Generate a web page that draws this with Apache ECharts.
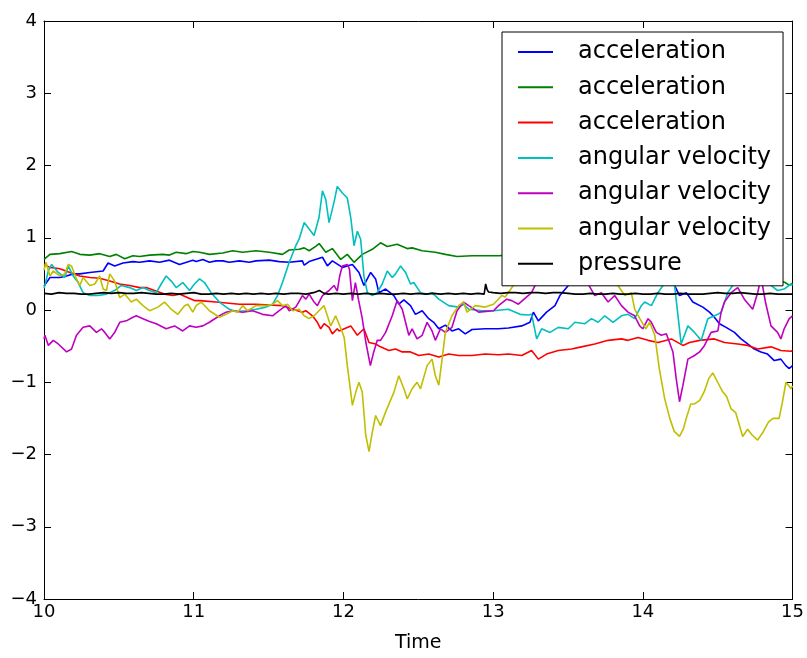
<!DOCTYPE html>
<html>
<head>
<meta charset="utf-8">
<script src="https://cdn.jsdelivr.net/npm/echarts@6/dist/echarts.min.js"></script>
<style>html,body{margin:0;padding:0;background:#fff}#chart{width:807px;height:658px}</style>
</head>
<body>
<div id="chart"></div>
<script>
// ---- data (time, value) ----
const seriesNames = ['acceleration', 'acceleration', 'acceleration', 'angular velocity', 'angular velocity', 'angular velocity', 'pressure'];
const seriesColors = ['#0000ff', '#008000', '#ff0000', '#00bfbf', '#bf00bf', '#bfbf00', '#000000'];
const xTicks = [10, 11, 12, 13, 14, 15];
const yTicks = [-4, -3, -2, -1, 0, 1, 2, 3, 4];

const accelX = [[10.0,0.33],[10.006,0.34],[10.04,0.45],[10.106,0.45],[10.15,0.47],[10.195,0.50],[10.239,0.50],[10.306,0.52],[10.395,0.54],[10.428,0.65],[10.472,0.61],[10.528,0.65],[10.594,0.67],[10.639,0.66],[10.705,0.68],[10.772,0.66],[10.838,0.69],[10.905,0.63],[10.994,0.69],[11.016,0.67],[11.061,0.70],[11.105,0.66],[11.15,0.68],[11.194,0.68],[11.238,0.66],[11.305,0.68],[11.371,0.66],[11.416,0.68],[11.505,0.69],[11.571,0.67],[11.638,0.66],[11.726,0.68],[11.738,0.62],[11.771,0.67],[11.86,0.73],[11.893,0.61],[11.926,0.68],[11.993,0.59],[12.06,0.63],[12.104,0.52],[12.137,0.34],[12.182,0.52],[12.215,0.43],[12.237,0.24],[12.282,0.29],[12.337,0.20],[12.37,0.08],[12.404,0.14],[12.448,0.06],[12.481,-0.06],[12.526,-0.01],[12.57,-0.12],[12.603,-0.17],[12.637,-0.26],[12.681,-0.21],[12.725,-0.29],[12.77,-0.26],[12.814,-0.33],[12.859,-0.27],[12.947,-0.26],[13.036,-0.26],[13.102,-0.25],[13.191,-0.22],[13.246,-0.17],[13.269,-0.03],[13.302,-0.15],[13.357,-0.03],[13.413,0.06],[13.446,0.20],[13.502,0.34],[13.56,0.42],[13.65,0.5],[13.75,0.55],[13.85,0.55],[13.95,0.5],[14.05,0.5],[14.15,0.42],[14.212,0.34],[14.245,0.20],[14.29,0.24],[14.334,0.11],[14.401,0.04],[14.445,-0.03],[14.478,-0.10],[14.512,-0.19],[14.556,-0.24],[14.612,-0.31],[14.656,-0.40],[14.7,-0.47],[14.745,-0.54],[14.789,-0.58],[14.833,-0.61],[14.878,-0.70],[14.922,-0.68],[14.955,-0.77],[14.978,-0.81],[15.0,-0.77]];

const accelY = [[10.0,0.70],[10.006,0.72],[10.04,0.77],[10.106,0.78],[10.184,0.81],[10.239,0.77],[10.306,0.76],[10.372,0.78],[10.439,0.74],[10.483,0.77],[10.539,0.71],[10.594,0.75],[10.639,0.74],[10.705,0.76],[10.794,0.77],[10.838,0.76],[10.883,0.80],[10.949,0.78],[10.994,0.81],[11.039,0.80],[11.105,0.77],[11.194,0.79],[11.26,0.82],[11.327,0.80],[11.416,0.82],[11.505,0.80],[11.593,0.77],[11.638,0.83],[11.704,0.84],[11.738,0.86],[11.771,0.82],[11.815,0.88],[11.838,0.92],[11.882,0.80],[11.926,0.85],[11.982,0.70],[12.026,0.77],[12.071,0.66],[12.126,0.77],[12.193,0.84],[12.248,0.93],[12.293,0.88],[12.359,0.91],[12.426,0.85],[12.459,0.86],[12.526,0.82],[12.614,0.80],[12.681,0.77],[12.759,0.74],[12.859,0.75],[12.947,0.75],[13.036,0.75],[13.1,0.76],[13.3,0.78],[13.5,0.75],[13.7,0.72],[13.9,0.70],[14.1,0.68],[14.3,0.62],[14.5,0.55],[14.7,0.50],[14.85,0.42],[14.92,0.40],[14.95,0.38],[14.98,0.34],[15.0,0.37]];

const accelZ = [[10.0,0.63],[10.006,0.61],[10.04,0.59],[10.106,0.57],[10.173,0.52],[10.239,0.47],[10.306,0.45],[10.372,0.44],[10.439,0.40],[10.505,0.36],[10.572,0.34],[10.639,0.31],[10.683,0.31],[10.739,0.27],[10.805,0.22],[10.861,0.20],[10.905,0.22],[10.961,0.17],[11.005,0.13],[11.039,0.13],[11.149,0.11],[11.305,0.08],[11.416,0.08],[11.505,0.07],[11.593,0.06],[11.66,0.01],[11.726,-0.03],[11.749,-0.01],[11.793,-0.08],[11.826,-0.17],[11.848,-0.26],[11.871,-0.19],[11.904,-0.24],[11.926,-0.33],[11.959,-0.26],[11.971,-0.29],[12.049,-0.22],[12.093,-0.35],[12.137,-0.26],[12.171,-0.45],[12.215,-0.47],[12.248,-0.51],[12.304,-0.56],[12.348,-0.54],[12.393,-0.58],[12.448,-0.58],[12.504,-0.63],[12.57,-0.61],[12.637,-0.65],[12.703,-0.61],[12.77,-0.63],[12.859,-0.63],[12.947,-0.61],[13.036,-0.62],[13.102,-0.61],[13.191,-0.63],[13.257,-0.56],[13.302,-0.68],[13.357,-0.61],[13.435,-0.56],[13.524,-0.54],[13.59,-0.51],[13.679,-0.47],[13.768,-0.42],[13.857,-0.40],[13.901,-0.42],[13.968,-0.38],[14.035,-0.42],[14.101,-0.45],[14.19,-0.40],[14.268,-0.49],[14.312,-0.45],[14.379,-0.42],[14.478,-0.40],[14.545,-0.45],[14.634,-0.47],[14.7,-0.49],[14.767,-0.54],[14.856,-0.51],[14.922,-0.56],[14.989,-0.57],[15.0,-0.56]];

const angVelX = [[10.0,0.30],[10.006,0.34],[10.03,0.55],[10.051,0.63],[10.095,0.52],[10.139,0.45],[10.162,0.61],[10.195,0.47],[10.228,0.38],[10.261,0.24],[10.306,0.20],[10.361,0.20],[10.417,0.22],[10.472,0.27],[10.517,0.34],[10.572,0.31],[10.617,0.27],[10.661,0.31],[10.705,0.27],[10.75,0.24],[10.783,0.36],[10.816,0.47],[10.85,0.40],[10.883,0.31],[10.927,0.38],[10.972,0.27],[11.005,0.36],[11.039,0.43],[11.072,0.38],[11.116,0.24],[11.172,0.11],[11.238,0.01],[11.283,-0.02],[11.349,-0.01],[11.416,0.01],[11.482,0.04],[11.527,0.08],[11.56,0.20],[11.593,0.38],[11.638,0.66],[11.682,0.89],[11.704,0.98],[11.738,1.21],[11.771,1.12],[11.804,1.03],[11.837,1.28],[11.86,1.65],[11.882,1.53],[11.904,1.21],[11.937,1.49],[11.959,1.71],[11.993,1.62],[12.004,1.62],[12.026,1.55],[12.049,1.28],[12.071,0.89],[12.093,1.09],[12.115,0.98],[12.137,0.47],[12.16,0.24],[12.193,0.20],[12.226,0.24],[12.259,0.36],[12.293,0.54],[12.326,0.45],[12.348,0.50],[12.382,0.61],[12.415,0.52],[12.448,0.36],[12.47,0.38],[12.515,0.24],[12.559,0.22],[12.592,0.24],[12.637,0.15],[12.703,0.06],[12.77,0.04],[12.803,0.08],[12.837,0.01],[12.925,-0.01],[13.003,-0.01],[13.102,0.01],[13.18,-0.06],[13.235,-0.07],[13.257,-0.06],[13.291,-0.40],[13.324,-0.26],[13.38,-0.31],[13.435,-0.24],[13.502,-0.26],[13.546,-0.17],[13.613,-0.19],[13.657,-0.12],[13.701,-0.17],[13.746,-0.08],[13.801,-0.17],[13.857,-0.08],[13.901,-0.06],[13.945,-0.12],[13.99,0.06],[14.012,0.11],[14.057,0.06],[14.101,0.24],[14.134,0.34],[14.16,0.55],[14.19,0.50],[14.212,0.34],[14.256,-0.47],[14.301,-0.22],[14.345,-0.31],[14.39,-0.42],[14.434,-0.12],[14.501,-0.06],[14.523,-0.03],[14.567,0.24],[14.6,0.34],[14.65,0.6],[14.75,0.7],[14.82,0.5],[14.856,0.34],[14.9,0.27],[14.944,0.29],[14.989,0.36],[15.0,0.34]];

const angVelY = [[10.0,-0.40],[10.006,-0.35],[10.029,-0.49],[10.062,-0.42],[10.095,-0.47],[10.151,-0.58],[10.184,-0.54],[10.217,-0.35],[10.261,-0.24],[10.306,-0.22],[10.35,-0.31],[10.384,-0.26],[10.406,-0.31],[10.439,-0.40],[10.472,-0.31],[10.506,-0.17],[10.55,-0.15],[10.594,-0.10],[10.617,-0.08],[10.661,-0.12],[10.705,-0.16],[10.75,-0.19],[10.816,-0.26],[10.872,-0.22],[10.927,-0.29],[10.972,-0.22],[11.016,-0.24],[11.061,-0.22],[11.105,-0.17],[11.172,-0.08],[11.216,-0.03],[11.26,-0.01],[11.327,-0.03],[11.394,-0.01],[11.46,-0.06],[11.527,-0.08],[11.571,-0.01],[11.616,0.06],[11.638,-0.01],[11.682,0.04],[11.726,0.20],[11.749,0.15],[11.771,0.22],[11.804,0.11],[11.826,0.06],[11.86,0.20],[11.904,0.27],[11.937,0.34],[11.959,0.26],[11.975,0.47],[11.993,0.61],[12.026,0.63],[12.04,0.57],[12.06,0.13],[12.08,0.38],[12.10,0.15],[12.126,-0.12],[12.15,-0.45],[12.18,-0.77],[12.2,-0.60],[12.226,-0.42],[12.248,-0.42],[12.282,-0.31],[12.326,-0.08],[12.359,0.13],[12.393,0.01],[12.437,-0.35],[12.459,-0.26],[12.492,-0.40],[12.526,-0.35],[12.559,-0.17],[12.592,-0.29],[12.614,-0.42],[12.648,-0.26],[12.681,-0.31],[12.725,-0.24],[12.759,-0.01],[12.803,0.11],[12.837,0.06],[12.903,-0.03],[13.003,-0.01],[13.036,0.06],[13.091,0.15],[13.124,0.13],[13.169,0.08],[13.257,0.24],[13.28,0.34],[13.33,0.5],[13.4,0.55],[13.5,0.45],[13.6,0.5],[13.64,0.34],[13.679,0.20],[13.723,0.24],[13.768,0.11],[13.812,0.20],[13.857,0.06],[13.901,-0.03],[13.945,-0.08],[13.979,-0.22],[14.0,-0.26],[14.035,-0.12],[14.057,-0.17],[14.09,-0.31],[14.123,-0.35],[14.157,-0.33],[14.201,-0.58],[14.223,-0.95],[14.245,-1.27],[14.268,-1.04],[14.301,-0.68],[14.345,-0.63],[14.379,-0.58],[14.412,-0.49],[14.456,-0.31],[14.501,-0.29],[14.523,-0.03],[14.545,0.11],[14.59,0.24],[14.634,0.31],[14.678,0.15],[14.734,0.01],[14.767,0.24],[14.79,0.45],[14.82,0.1],[14.856,-0.22],[14.9,-0.31],[14.922,-0.40],[14.944,-0.26],[14.978,-0.12],[15.0,-0.08]];

const angVelZ = [[10.0,0.55],[10.013,0.66],[10.04,0.47],[10.062,0.54],[10.106,0.47],[10.139,0.50],[10.162,0.63],[10.184,0.61],[10.217,0.43],[10.239,0.34],[10.261,0.45],[10.306,0.34],[10.339,0.36],[10.372,0.47],[10.395,0.29],[10.417,0.27],[10.439,0.50],[10.472,0.40],[10.506,0.17],[10.539,0.22],[10.583,0.11],[10.617,0.15],[10.661,0.06],[10.705,-0.01],[10.761,0.04],[10.805,0.11],[10.85,0.01],[10.894,-0.06],[10.939,0.06],[10.961,0.08],[10.994,-0.03],[11.016,0.06],[11.05,0.11],[11.105,-0.01],[11.172,-0.10],[11.216,-0.06],[11.26,-0.01],[11.294,-0.03],[11.327,0.06],[11.36,-0.01],[11.416,0.06],[11.482,0.06],[11.527,0.08],[11.56,0.13],[11.593,0.06],[11.627,0.08],[11.66,-0.01],[11.704,0.01],[11.738,-0.08],[11.771,-0.12],[11.804,-0.08],[11.837,-0.01],[11.871,0.06],[11.915,-0.22],[11.948,-0.08],[11.993,-0.31],[12.005,-0.38],[12.026,-0.77],[12.049,-1.14],[12.06,-1.32],[12.082,-1.14],[12.104,-1.00],[12.126,-1.14],[12.149,-1.73],[12.171,-1.96],[12.193,-1.69],[12.215,-1.46],[12.248,-1.60],[12.282,-1.41],[12.337,-1.14],[12.37,-0.91],[12.404,-1.09],[12.426,-1.23],[12.459,-1.09],[12.492,-1.00],[12.515,-1.09],[12.559,-0.77],[12.592,-0.68],[12.614,-0.91],[12.637,-1.04],[12.659,-0.68],[12.681,-0.31],[12.725,-0.08],[12.77,0.06],[12.803,0.11],[12.825,-0.03],[12.881,0.06],[12.947,0.04],[13.003,0.08],[13.058,0.20],[13.08,0.18],[13.135,0.34],[13.2,0.5],[13.3,0.7],[13.45,0.6],[13.6,0.75],[13.75,0.5],[13.834,0.34],[13.879,0.20],[13.923,0.24],[13.946,0.01],[13.98,-0.12],[14.02,-0.26],[14.046,-0.17],[14.08,-0.35],[14.11,-0.81],[14.146,-1.23],[14.18,-1.50],[14.21,-1.68],[14.245,-1.75],[14.27,-1.65],[14.29,-1.50],[14.32,-1.30],[14.345,-1.30],[14.38,-1.25],[14.41,-1.13],[14.44,-0.95],[14.467,-0.87],[14.50,-1.00],[14.53,-1.12],[14.56,-1.20],[14.59,-1.37],[14.62,-1.42],[14.667,-1.75],[14.70,-1.65],[14.73,-1.73],[14.767,-1.80],[14.80,-1.70],[14.84,-1.55],[14.87,-1.50],[14.91,-1.50],[14.93,-1.30],[14.956,-1.00],[14.99,-1.09],[15.0,-1.05]];

const pressure = [[10.0,0.23],[10.05,0.22],[10.1,0.24],[10.15,0.23],[10.2,0.23],[10.25,0.22],[10.3,0.22],[10.35,0.23],[10.4,0.24],[10.45,0.23],[10.5,0.24],[10.55,0.23],[10.6,0.23],[10.65,0.24],[10.7,0.23],[10.75,0.22],[10.8,0.22],[10.85,0.23],[10.9,0.22],[10.95,0.23],[11.0,0.24],[11.05,0.22],[11.1,0.22],[11.15,0.23],[11.2,0.22],[11.25,0.23],[11.3,0.22],[11.35,0.23],[11.4,0.22],[11.45,0.23],[11.5,0.22],[11.55,0.23],[11.6,0.22],[11.65,0.23],[11.7,0.23],[11.75,0.22],[11.8,0.24],[11.84,0.27],[11.87,0.23],[11.9,0.22],[11.95,0.23],[12.0,0.22],[12.05,0.23],[12.1,0.22],[12.15,0.23],[12.2,0.22],[12.25,0.23],[12.3,0.22],[12.35,0.22],[12.4,0.23],[12.45,0.22],[12.5,0.23],[12.55,0.22],[12.6,0.23],[12.65,0.22],[12.7,0.23],[12.75,0.22],[12.8,0.23],[12.85,0.22],[12.9,0.23],[12.94,0.22],[12.95,0.36],[12.96,0.28],[12.97,0.25],[13.0,0.24],[13.05,0.23],[13.1,0.24],[13.15,0.24],[13.2,0.23],[13.25,0.24],[13.3,0.24],[13.35,0.23],[13.4,0.24],[13.45,0.24],[13.5,0.23],[13.55,0.22],[13.6,0.22],[13.65,0.23],[13.7,0.22],[13.75,0.22],[13.8,0.23],[13.85,0.22],[13.9,0.22],[13.95,0.23],[14.0,0.22],[14.05,0.22],[14.1,0.23],[14.15,0.22],[14.2,0.22],[14.25,0.23],[14.3,0.22],[14.35,0.22],[14.4,0.22],[14.45,0.23],[14.5,0.24],[14.55,0.23],[14.6,0.23],[14.65,0.24],[14.7,0.23],[14.75,0.22],[14.8,0.22],[14.85,0.23],[14.9,0.22],[14.95,0.22],[15.0,0.22]];

const seriesData = [accelX, accelY, accelZ, angVelX, angVelY, angVelZ, pressure];

// ---- chart ----
const FONT = 'DejaVu Sans';
const fmtNum = v => String(v).replace('-', '\u2212');
// unique internal keys so that duplicate legend labels are kept
const keys = seriesNames.map((n, i) => n + '#' + i);
const keyToLabel = {};
keys.forEach((k, i) => keyToLabel[k] = seriesNames[i]);

const chart = echarts.init(document.getElementById('chart'), null, {renderer: 'canvas'});
const axisCommon = {
  type: 'value',
  axisLine: {show: true, onZero: false, lineStyle: {color: '#000', width: 1}},
  axisTick: {show: true, inside: true, length: 7, lineStyle: {color: '#000', width: 1}},
  splitLine: {show: false}
};
chart.setOption({
  animation: false,
  backgroundColor: '#fff',
  grid: {left: 44, right: 12, top: 21, bottom: 56, containLabel: false},
  xAxis: [
    Object.assign({}, axisCommon, {
      position: 'bottom', min: xTicks[0], max: xTicks[xTicks.length - 1], interval: 1,
      name: 'Time', nameLocation: 'middle', nameGap: 35,
      nameTextStyle: {fontFamily: FONT, fontSize: 19, color: '#000'},
      axisLabel: {margin: 4, fontFamily: FONT, fontSize: 18, color: '#000', formatter: fmtNum}
    }),
    Object.assign({}, axisCommon, {
      position: 'top', min: xTicks[0], max: xTicks[xTicks.length - 1], interval: 1,
      axisLabel: {show: false}
    })
  ],
  yAxis: [
    Object.assign({}, axisCommon, {
      position: 'left', min: yTicks[0], max: yTicks[yTicks.length - 1], interval: 1,
      axisLabel: {margin: 7, fontFamily: FONT, fontSize: 18, color: '#000', formatter: fmtNum}
    }),
    Object.assign({}, axisCommon, {
      position: 'right', min: yTicks[0], max: yTicks[yTicks.length - 1], interval: 1,
      axisLabel: {show: false}
    })
  ],
  legend: {
    data: keys,
    orient: 'vertical',
    left: 502, top: 32,
    padding: [8, 12, 10, 16],
    itemGap: 11.3,
    itemWidth: 35, itemHeight: 2,
    icon: 'rect',
    backgroundColor: '#fff',
    borderColor: '#000', borderWidth: 1, borderRadius: 0,
    selectedMode: false,
    z: 10,
    formatter: k => keyToLabel[k],
    textStyle: {fontFamily: FONT, fontSize: 24, color: '#000', padding: [0, 0, 0, 20]}
  },
  series: seriesData.map((d, i) => ({
    name: keys[i],
    type: 'line',
    data: d,
    xAxisIndex: 0, yAxisIndex: 0,
    showSymbol: false, symbol: 'none',
    color: seriesColors[i],
    lineStyle: {color: seriesColors[i], width: 1.6},
    itemStyle: {color: seriesColors[i]},
    z: 2
  }))
});
</script>
</body>
</html>
